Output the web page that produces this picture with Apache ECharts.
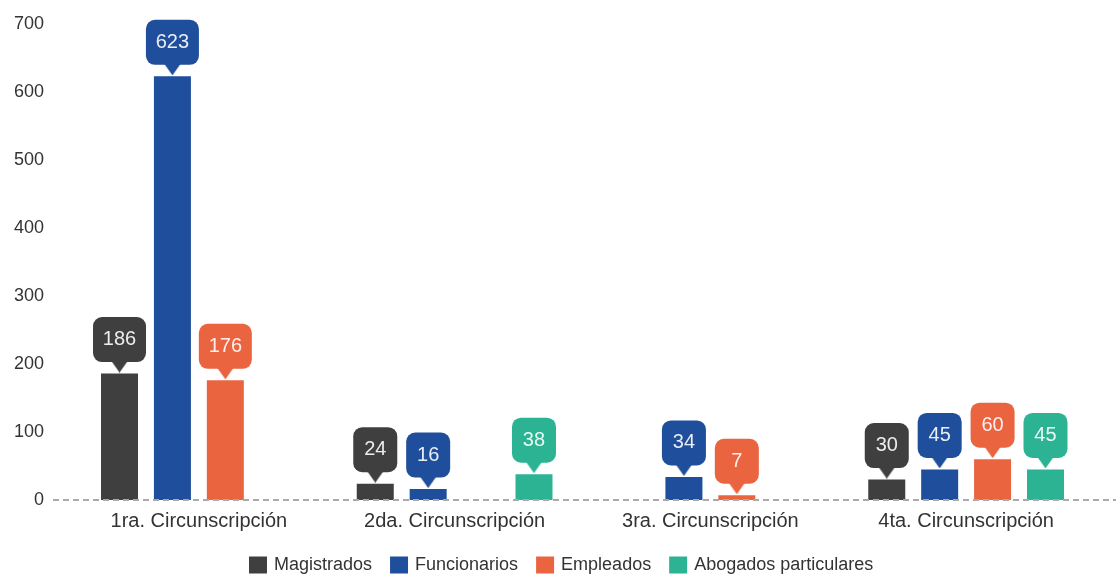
<!DOCTYPE html>
<html><head><meta charset="utf-8">
<script src="https://cdn.jsdelivr.net/npm/echarts@6/dist/echarts.min.js"></script>
<style>html,body{margin:0;padding:0;background:#fff}#c{width:1118px;height:575px}</style>
</head><body><div id="c"></div>
<script>
const categories = ['1ra. Circunscripción', '2da. Circunscripción', '3ra. Circunscripción', '4ta. Circunscripción'];
const seriesNames = ['Magistrados', 'Funcionarios', 'Empleados', 'Abogados particulares'];
const magistrados = [186, 24, null, 30];
const funcionarios = [623, 16, 34, 45];
const empleados = [176, null, 7, 60];
const abogados = [null, 38, null, 45];
const yMin = 0, yMax = 700, yInterval = 100;

const colors = ['#3f3f3f', '#1f4e9c', '#ea6440', '#2cb394'];
const FONT = '"Liberation Sans", Arial, sans-serif';

function tri(color) {
  const c = document.createElement('canvas');
  c.width = 17; c.height = 12;
  const g = c.getContext('2d');
  g.fillStyle = color;
  g.beginPath(); g.moveTo(0, 0); g.lineTo(17, 0); g.lineTo(8.5, 12); g.closePath(); g.fill();
  return c;
}

function mkSeries(name, data, color) {
  const box = { height: 45, lineHeight: 42, align: 'center', backgroundColor: color, borderRadius: 9,
    color: 'rgba(255,255,255,0.9)', fontSize: 20, fontFamily: FONT };
  return {
    name, type: 'bar', data, barWidth: 37, barGap: '43%',
    itemStyle: { color },
    label: {
      show: true, position: 'top', distance: 1,
      formatter: p => { const s = String(p.value); return (s.length > 2 ? '{w|' : '{n|') + s + '}\n{t|}'; },
      rich: {
        n: Object.assign({ width: 44 }, box),
        w: Object.assign({ width: 53 }, box),
        t: { width: 17, height: 12, lineHeight: 12, backgroundColor: { image: tri(color) } }
      }
    }
  };
}

const chart = echarts.init(document.getElementById('c'));
chart.setOption({
  animation: false,
  backgroundColor: '#fff',
  grid: { left: 71, right: 24, top: 24, bottom: 75 },
  legend: {
    left: 244, top: 551, itemWidth: 18, itemHeight: 17, itemGap: 18, icon: 'rect',
    textStyle: { fontSize: 18, color: '#333', fontFamily: FONT, padding: [0, 0, 0, 2] },
    data: seriesNames
  },
  xAxis: {
    type: 'category', data: categories,
    axisLine: { show: false }, axisTick: { show: false },
    axisLabel: { fontSize: 20, color: '#333', margin: 11, fontFamily: FONT }
  },
  yAxis: {
    type: 'value', min: yMin, max: yMax, interval: yInterval,
    splitLine: { show: false }, axisLine: { show: false }, axisTick: { show: false },
    axisLabel: { fontSize: 18, color: '#333', margin: 27, fontFamily: FONT }
  },
  series: [
    mkSeries(seriesNames[0], magistrados, colors[0]),
    mkSeries(seriesNames[1], funcionarios, colors[1]),
    mkSeries(seriesNames[2], empleados, colors[2]),
    mkSeries(seriesNames[3], abogados, colors[3])
  ]
});
const y0 = chart.convertToPixel({ yAxisIndex: 0 }, 0);
chart.setOption({
  graphic: [{
    type: 'line', z: 100, silent: true,
    shape: { x1: 53, y1: y0, x2: 1116, y2: y0 },
    style: { stroke: '#a9a9a9', lineWidth: 2, lineDash: [6, 4] }
  }]
});
</script></body></html>
